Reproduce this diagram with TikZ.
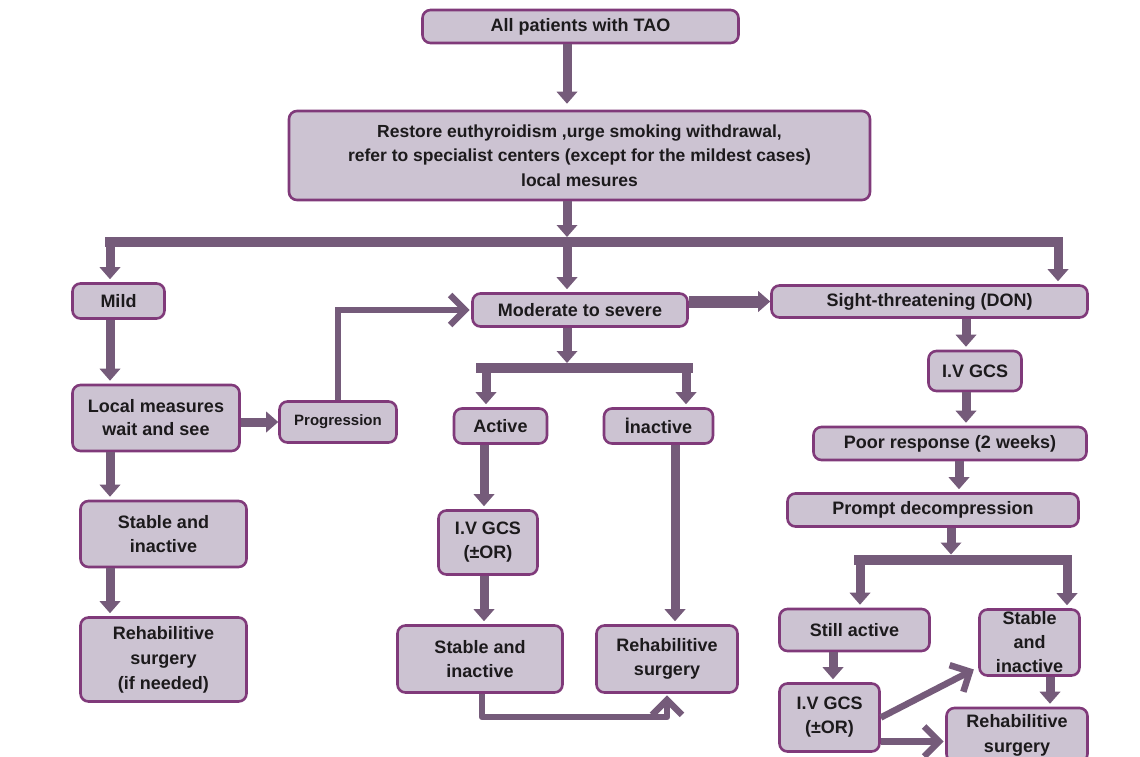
\documentclass[tikz,border=0pt]{standalone}
\usepackage{fontspec}
\setmainfont{Liberation Sans}
\usetikzlibrary{arrows.meta}
\definecolor{stagefill}{RGB}{204,195,210}
\definecolor{stageline}{RGB}{128,58,122}
\definecolor{flowcol}{RGB}{117,91,122}
\definecolor{inkcol}{RGB}{28,26,28}
\tikzset{stage/.style={draw=stageline,fill=stagefill,line width=2.6pt,rounded corners=8pt,
   align=center,inner sep=0pt,text=inkcol,font=\bfseries\fontsize{18}{24}\selectfont},
 flow/.style={flowcol,line width=9pt,shorten >=3pt,-{Triangle[length=12pt,width=21pt,line width=0pt]}},
 barb/.style={flowcol,line width=6.5pt,shorten >=1.5pt,-{Straight Barb[length=15pt,width=30pt]}},
 branch/.style={flowcol,line width=10pt}}

\begin{document}
\begin{tikzpicture}[x=1pt,y=-1pt]
\useasboundingbox (0,0) rectangle (1140,757);
% boxes
\node[stage,minimum width=316pt,minimum height=33pt] (all) at (580.5,26.5) {All patients with TAO};
\node[stage,minimum width=581pt,minimum height=89pt,font=\bfseries\fontsize{17.5}{24.5}\selectfont] (restore) at (579.5,155.5)
  {Restore euthyroidism ,urge smoking withdrawal,\\refer to specialist centers (except for the mildest cases)\\local mesures};
\node[stage,minimum width=92pt,minimum height=35pt] (mild) at (118.5,301) {Mild};
\node[stage,minimum width=215pt,minimum height=33pt] (moderate) at (580,310) {Moderate to severe};
\node[stage,minimum width=316pt,minimum height=32pt] (sight) at (929.5,301.5) {Sight-threatening (DON)};
\node[stage,minimum width=167pt,minimum height=66pt,font=\bfseries\fontsize{18}{23}\selectfont] (local) at (156,418) {Local measures\\wait and see};
\node[stage,minimum width=117pt,minimum height=41pt,font=\bfseries\fontsize{15}{18}\selectfont] (progress) at (338,422) {Progression};
\node[stage,minimum width=166pt,minimum height=66pt] (stableL) at (163.5,534) {Stable and\\inactive};
\node[stage,minimum width=166pt,minimum height=84pt,font=\bfseries\fontsize{18}{25}\selectfont] (rehabL) at (163.5,659.5) {Rehabilitive\\surgery\\(if needed)};
\node[stage,minimum width=93pt,minimum height=35pt] (active) at (500.5,426) {Active};
\node[stage,minimum width=109pt,minimum height=35pt] (inactive) at (658.5,426) {İnactive};
\node[stage,minimum width=99pt,minimum height=64pt] (ivgcsM) at (488,542.5) {I.V GCS\\(±OR)};
\node[stage,minimum width=165pt,minimum height=67pt] (stableM) at (480,659) {Stable and\\inactive};
\node[stage,minimum width=141pt,minimum height=67pt] (rehabM) at (667,659) {Rehabilitive\\surgery};
\node[stage,minimum width=93pt,minimum height=40pt] (ivgcsR) at (975,371) {I.V GCS};
\node[stage,minimum width=273pt,minimum height=33pt] (poor) at (950,443.5) {Poor response (2 weeks)};
\node[stage,minimum width=291pt,minimum height=33pt] (prompt) at (933,510) {Prompt decompression};
\node[stage,minimum width=150pt,minimum height=42pt] (still) at (854.5,630) {Still active};
\node[stage,minimum width=100pt,minimum height=66pt] (stableR) at (1029.5,642.5) {Stable\\and\\inactive};
\node[stage,minimum width=100pt,minimum height=68pt] (ivgcsR2) at (829.5,717.5) {I.V GCS\\(±OR)};
\node[stage,minimum width=141pt,minimum height=54pt,font=\bfseries\fontsize{18}{25}\selectfont] (rehabR) at (1017,735) {Rehabilitive\\surgery};
% split bars and columns
\coordinate (trunk) at (567,0);
\coordinate (splitW) at (105,242); \coordinate (splitE) at (1063,242);
\coordinate (dropMild) at (110,242); \coordinate (dropSight) at (1058,242);
\coordinate (splitMW) at (476,368); \coordinate (splitME) at (693,368);
\coordinate (dropActive) at (486,368); \coordinate (dropInact) at (686,368);
\coordinate (colIV) at (484,0); \coordinate (colRehab) at (675,0);
\coordinate (loopM) at (482,717);
\coordinate (splitRW) at (854,559.5); \coordinate (splitRE) at (1072,559.5);
\coordinate (dropStill) at (860,559.5); \coordinate (dropStable) at (1067,559.5);
\coordinate (colSight) at (966,0); \coordinate (colPoor) at (959,0);
\coordinate (trunkR) at (951,0); \coordinate (colStill) at (833,0); \coordinate (colStab) at (1050,0);
\coordinate (lowR) at ([yshift=-24pt]ivgcsR2.east);
\draw[branch] (splitW) -- (splitE);
\draw[branch] (splitMW) -- (splitME);
\draw[branch] (splitRW) -- (splitRE);
% connectors
\draw[flow,shorten >=6pt] (all.south -| trunk) -- (restore.north -| trunk);
\draw[flow,shorten >=5pt] (restore.south -| trunk) -- (trunk |- splitW);
\draw[flow] (dropMild) -- (dropMild |- mild.north);
\draw[flow] (trunk |- splitW) -- (trunk |- moderate.north);
\draw[flow] (dropSight) -- (dropSight |- sight.north);
\draw[flow,line width=12pt,shorten >=0pt] (moderate.east |- sight.west) -- (sight.west);
\draw[flow] (mild.south -| dropMild) -- (local.north -| dropMild);
\draw[flow] (local.south -| dropMild) -- (stableL.north -| dropMild);
\draw[flow] (stableL.south -| dropMild) -- (rehabL.north -| dropMild);
\draw[flow,shorten >=0pt] (local.east |- progress.west) -- (progress.west);
\draw[barb] (progress.north) |- (moderate.west);
\draw[flow,shorten >=5pt] (moderate.south -| trunk) -- (trunk |- splitMW);
\draw[flow] (dropActive) -- (dropActive |- active.north);
\draw[flow] (dropInact) -- (dropInact |- inactive.north);
\draw[flow] (active.south -| colIV) -- (ivgcsM.north -| colIV);
\draw[flow] (ivgcsM.south -| colIV) -- (stableM.north -| colIV);
\draw[flow] (inactive.south -| colRehab) -- (rehabM.north -| colRehab);
\draw[barb,line join=round] (stableM.south -| loopM) -- (loopM) -| (rehabM.south);
\draw[flow] (sight.south -| colSight) -- (ivgcsR.north -| colSight);
\draw[flow] (ivgcsR.south -| colSight) -- (poor.north -| colSight);
\draw[flow] (poor.south -| colPoor) -- (prompt.north -| colPoor);
\draw[flow,shorten >=5pt] (prompt.south -| trunkR) -- (trunkR |- splitRW);
\draw[flow] (dropStill) -- (dropStill |- still.north);
\draw[flow] (dropStable) -- (dropStable |- stableR.north);
\draw[flow] (still.south -| colStill) -- (ivgcsR2.north -| colStill);
\draw[barb] (ivgcsR2.east) -- ([shift={(-3pt,8pt)}]stableR.south west);
\draw[barb] (lowR) -- (lowR -| rehabR.west);
\draw[flow] (stableR.south -| colStab) -- (rehabR.north -| colStab);
\end{tikzpicture}
\end{document}
